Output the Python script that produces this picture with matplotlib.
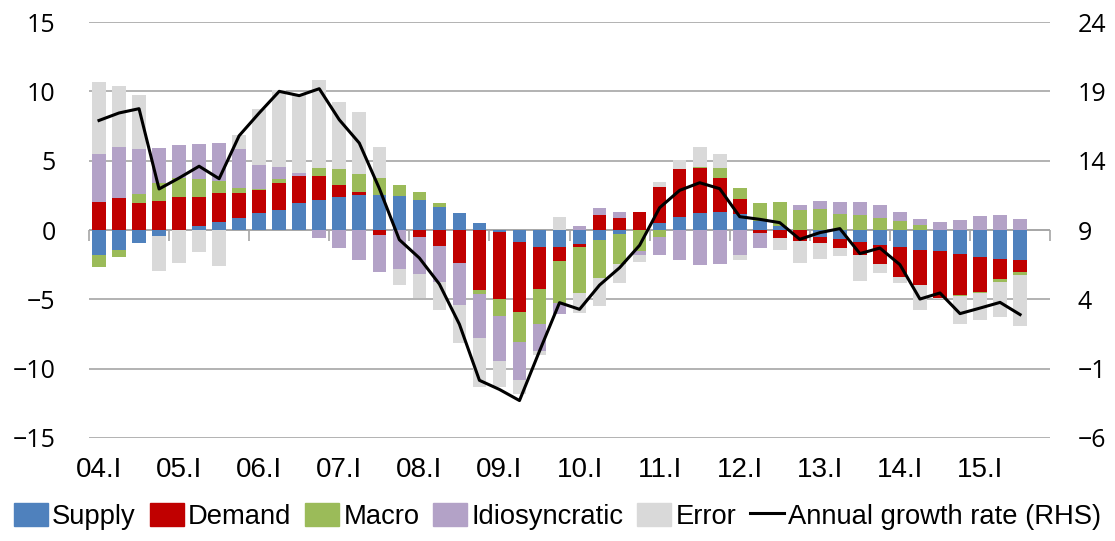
import matplotlib
matplotlib.use("Agg")
import matplotlib.pyplot as plt
import numpy as np
from matplotlib.patches import Patch
from matplotlib.lines import Line2D

# quarters 2004Q1 .. 2015Q3
years = ["04", "05", "06", "07", "08", "09", "10", "11", "12", "13", "14", "15"]
n_q = 47
xlabels = [f"{y}.I" for y in years]

supply = [-1.8, -1.42, -0.94, -0.41, 0.0, 0.31, 0.58, 0.84, 1.2, 1.47, 1.92, 2.19,
          2.38, 2.55, 2.55, 2.48, 2.2, 1.68, 1.23, 0.5, -0.15, -0.84, -1.23, -1.23,
          -0.99, -0.75, -0.31, 0.0, 0.53, 0.96, 1.2, 1.32, 1.13, 0.65, 0.29, 0.0,
          -0.48, -0.67, -0.87, -1.05, -1.23, -1.42, -1.49, -1.73, -1.97, -2.07, -2.16]
demand = [2.0, 2.31, 1.95, 2.12, 2.4, 2.09, 2.09, 1.83, 1.68, 1.92, 1.95, 1.68,
          0.89, 0.17, -0.34, 0.0, -0.5, -1.12, -2.4, -4.33, -4.85, -5.07, -3.05, -1.01,
          -0.24, 1.08, 0.89, 1.31, 2.6, 3.42, 3.3, 2.45, 1.08, -0.19, -0.55, -0.79,
          -0.48, -0.6, -0.92, -1.42, -2.16, -2.52, -3.41, -2.93, -2.5, -1.44, -0.87]
macro = [-0.9, -0.53, 0.65, 1.27, 1.35, 1.25, 0.83, 0.36, 0.05, 0.29, 0.0, 0.6,
         1.13, 1.32, 1.2, 0.79, 0.54, 0.26, 0.0, -0.31, -1.2, -2.17, -2.52, -3.0,
         -3.29, -2.69, -2.17, -1.51, -0.5, 0.0, 0.05, 0.73, 0.84, 1.32, 1.75, 1.42,
         1.49, 1.13, 1.09, 0.88, 0.63, 0.38, 0.0, -0.08, -0.1, -0.26, -0.24]
idio = [3.5, 3.7, 3.24, 2.52, 2.35, 2.55, 2.77, 2.81, 1.78, 0.89, 0.22, -0.58,
        -1.3, -2.19, -2.69, -2.79, -2.65, -2.65, -3.03, -3.17, -3.25, -2.74, -1.93, -0.84,
        0.31, 0.48, 0.41, -0.32, -1.3, -2.19, -2.55, -2.48, -1.83, -1.08, 0.0, 0.38,
        0.6, 0.91, 0.96, 0.9, 0.67, 0.44, 0.55, 0.75, 1.03, 1.1, 0.82]
error = [5.15, 4.34, 3.87, -2.52, -2.4, -1.59, -2.57, 0.99, 4.02, 5.5, 5.7, 6.33,
         4.8, 4.45, 2.25, -1.15, -1.73, -2.02, -2.74, -3.49, -1.85, -1.03, -0.31, 0.96,
         -1.44, -2.04, -1.32, -0.45, 0.36, 0.64, 1.45, 1.0, -0.36, 0.0, -0.92, -1.57,
         -1.11, -0.61, -1.89, -0.65, -0.43, -1.81, -0.05, -2.01, -1.9, -2.5, -3.63]
growth = [16.9, 17.44, 17.75, 11.96, 12.75, 13.6, 12.7, 15.8, 17.44, 19.0, 18.69, 19.19,
          16.95, 15.27, 12.0, 8.3, 6.98, 5.1, 2.2, -1.84, -2.5, -3.3, 0.27, 3.76,
          3.28, 5.03, 6.28, 7.9, 10.61, 11.86, 12.41, 11.98, 9.96, 9.77, 9.53, 8.33,
          8.81, 9.1, 7.3, 7.7, 6.5, 4.02, 4.46, 2.97, 3.37, 3.78, 2.9]

names = ["Supply", "Demand", "Macro", "Idiosyncratic", "Error"]
colors = ["#4F81BD", "#C00000", "#9BBB59", "#B3A2C7", "#D9D9D9"]

TXT = ["Liberation Sans", "DejaVu Sans"]
NUM = ["Open Sans", "DejaVu Sans"]

fig = plt.figure(figsize=(11.15, 5.41), dpi=100)
ax = fig.add_axes([0.0798, 0.1904, 0.862, 0.7689])

x = np.arange(n_q)
pos_base = np.zeros(n_q)
neg_base = np.zeros(n_q)
for vals, c in zip([supply, demand, macro, idio, error], colors):
    v = np.array(vals)
    p = np.where(v > 0, v, 0)
    m = np.where(v < 0, v, 0)
    ax.bar(x, p, 0.68, bottom=pos_base, color=c, linewidth=0, zorder=2)
    ax.bar(x, m, 0.68, bottom=neg_base, color=c, linewidth=0, zorder=2)
    pos_base += p
    neg_base += m

ax.set_xlim(-0.5, 47.5)
ax.set_ylim(-15, 15)
ax.set_yticks(np.arange(-15, 16, 5))
ax.grid(axis="y", color="#A6A6A6", lw=1.2, zorder=0)
ax.axhline(0, color="#A6A6A6", lw=1.2, zorder=1)
for s in ax.spines.values():
    s.set_visible(False)
ax.set_xticks(np.arange(0, n_q, 4))
ax.set_xticklabels(xlabels, family=TXT, fontsize=20)
ax.tick_params(axis="x", length=0, pad=14)
ax.tick_params(axis="y", length=0, pad=24, labelsize=18)
for t in ax.get_yticklabels():
    t.set_family(NUM)

# category tick marks on the zero line
sec = ax.secondary_xaxis(0, transform=ax.transData)
sec.set_xticks(np.arange(-0.5, n_q + 1, 4))
sec.set_xticklabels([])
sec.tick_params(length=8, width=1.2, color="#A6A6A6", direction="out")
sec.spines["bottom"].set_visible(False)

ax2 = ax.twinx()
ax2.set_ylim(-6, 24)
ax2.set_yticks(np.arange(-6, 25, 5))
ax2.plot(x, growth, color="black", lw=2.2, zorder=5)
for s in ax2.spines.values():
    s.set_visible(False)
ax2.tick_params(axis="y", length=0, pad=20, labelsize=18)
for t in ax2.get_yticklabels():
    t.set_family(NUM)

handles = [Patch(color=c, label=n) for n, c in zip(names, colors)]
handles.append(Line2D([0], [0], color="black", lw=2.2, label="Annual growth rate (RHS)"))
fig.legend(handles=handles, loc="lower center", bbox_to_anchor=(0.5, -0.005), ncol=6,
           frameon=False, prop={"family": TXT, "size": 19.7},
           handlelength=1.25, handleheight=0.95, handletextpad=0.15, columnspacing=0.5,
           borderaxespad=0.1)

fig.savefig("out.png", dpi=100)
